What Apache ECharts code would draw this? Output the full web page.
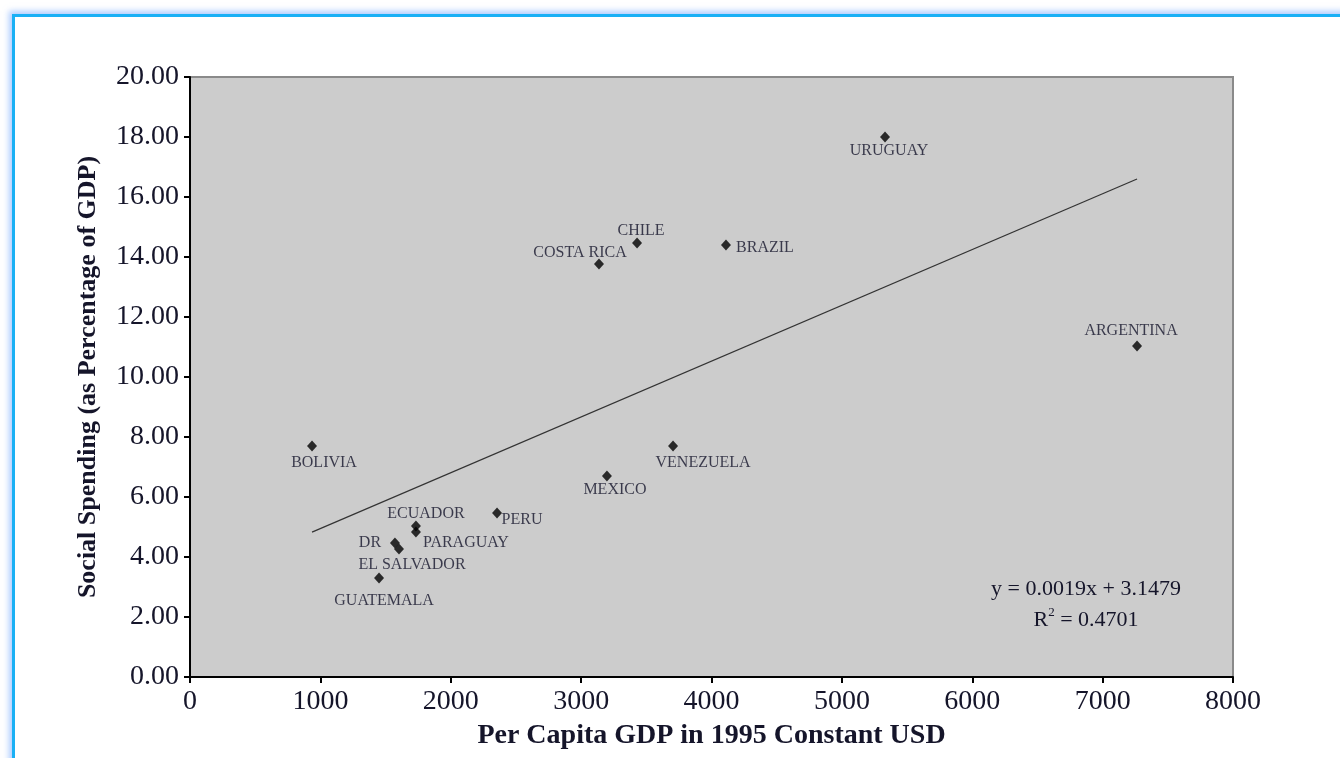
<!DOCTYPE html>
<html>
<head>
<meta charset="utf-8">
<script src="https://cdn.jsdelivr.net/npm/echarts@6/dist/echarts.min.js"></script>
<style>
html,body{margin:0;padding:0;background:#fff;overflow:hidden;}
#frame{position:absolute;left:12px;top:14px;width:1400px;height:800px;border-left:3px solid #1ab0f5;border-top:3px solid #1ab0f5;box-shadow:-3px -3px 6px rgba(120,170,255,0.6);}
#chart{position:absolute;left:0;top:0;width:1340px;height:758px;}
</style>
</head>
<body>
<div id="frame"></div>
<div id="chart"></div>
<script>
var countries = ['URUGUAY','CHILE','BRAZIL','COSTA RICA','ARGENTINA','BOLIVIA','VENEZUELA','MEXICO','PERU','ECUADOR','PARAGUAY','DR','EL SALVADOR','GUATEMALA'];
var gdp = [5331, 3429, 4111, 3137, 7264, 936, 3705, 3198, 2355, 1733, 1733, 1572, 1603, 1450];
var spending = [18.0, 14.47, 14.4, 13.77, 11.03, 7.7, 7.7, 6.7, 5.47, 5.03, 4.83, 4.47, 4.27, 3.3];
var trendX = [936, 7264];
var trendY = [4.83, 16.6];
var xTicks = [0,1000,2000,3000,4000,5000,6000,7000,8000];
var yTicks = [0,2,4,6,8,10,12,14,16,18,20];

var labelOffsets = {
  'URUGUAY':[4,14],'CHILE':[4,-12],'BRAZIL':[39,3],'COSTA RICA':[-19,-11],
  'ARGENTINA':[-6,-15],'BOLIVIA':[12,17],'VENEZUELA':[30,17],'MEXICO':[8,14],
  'PERU':[25,7],'ECUADOR':[10,-12],'PARAGUAY':[50,11],'DR':[-25,0],
  'EL SALVADOR':[13,16],'GUATEMALA':[5,23]
};

var serif = '"Liberation Serif","DejaVu Serif",serif';
var txt = '#15152a';
var pts = countries.map(function(c,i){
  return {name:c, value:[gdp[i], spending[i]],
    label:{show:true, position:'inside', offset:labelOffsets[c], formatter:c,
      fontFamily:serif, fontSize:16, color:'#14142a'}};
});

var chart = echarts.init(document.getElementById('chart'), null, {renderer:'canvas'});
chart.setOption({
  animation:false,
  backgroundColor:'transparent',
  grid:{left:190, right:107, top:77, bottom:81, show:true, backgroundColor:'#cccccc', borderColor:'#8a8a8a', borderWidth:2},
  xAxis:{type:'value', min:0, max:8000, interval:1000,
    name:'Per Capita GDP in 1995 Constant USD', nameLocation:'middle', nameGap:45,
    nameTextStyle:{fontFamily:serif, fontSize:28, fontWeight:'bold', color:txt},
    axisLine:{show:true, onZero:false, lineStyle:{color:'#000', width:2}},
    axisTick:{show:true, inside:false, length:6, lineStyle:{color:'#000', width:2}},
    axisLabel:{fontFamily:serif, fontSize:28, color:txt, margin:11,
      formatter:function(v){return String(v);}},
    splitLine:{show:false}},
  yAxis:{type:'value', min:0, max:20, interval:2,
    name:'Social Spending (as Percentage of GDP)', nameLocation:'middle', nameGap:89,
    nameTextStyle:{fontFamily:serif, fontSize:26, fontWeight:'bold', color:txt},
    axisLine:{show:true, onZero:false, lineStyle:{color:'#000', width:2}},
    axisTick:{show:true, inside:false, length:6, lineStyle:{color:'#000', width:2}},
    axisLabel:{fontFamily:serif, fontSize:28, color:txt, margin:11,
      formatter:function(v){return v.toFixed(2);}},
    splitLine:{show:false}},
  series:[
    {type:'line', data:trendX.map(function(x,i){return [x,trendY[i]];}),
      showSymbol:false, symbol:'none', lineStyle:{color:'#333', width:1.2}, z:2},
    {type:'scatter', data:pts, symbol:'diamond', symbolSize:[10,11],
      itemStyle:{color:'#000'}, z:3}
  ],
  graphic:[
    {type:'text', x:1086, y:589, style:{text:'y = 0.0019x + 3.1479', font:'22px '+serif, fill:txt, textAlign:'center', textVerticalAlign:'middle'}},
    {type:'text', x:1086, y:619, style:{text:'{r|R}{s|2}{r| = 0.4701}', font:'22px '+serif, fill:txt, textAlign:'center', textVerticalAlign:'middle',
      rich:{r:{fontFamily:serif, fontSize:22, fill:txt, verticalAlign:'bottom'}, s:{fontFamily:serif, fontSize:13, fill:txt, verticalAlign:'top', padding:[0,0,12,0]}}}}
  ]
});
</script>
</body>
</html>
